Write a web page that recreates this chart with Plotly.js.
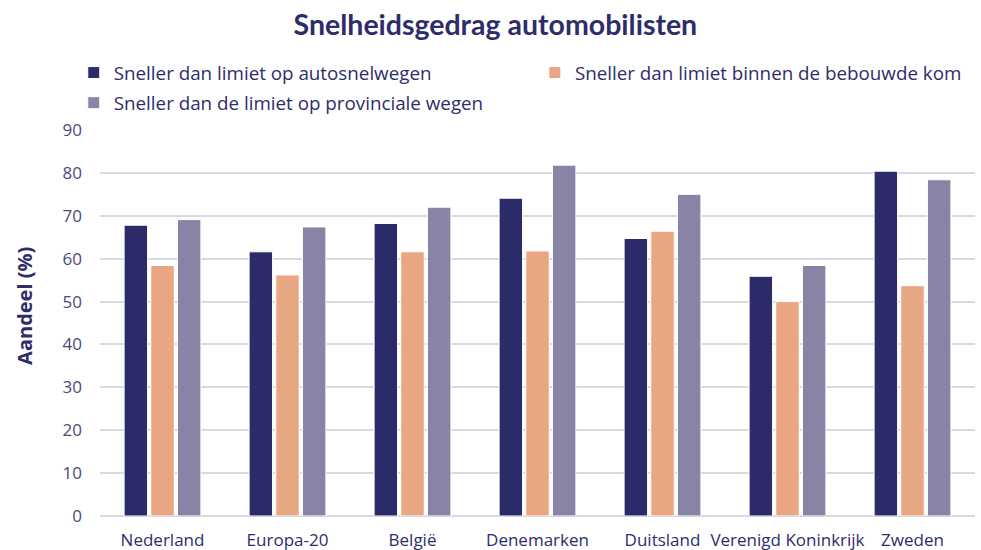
<!DOCTYPE html>
<html>
<head>
<meta charset="utf-8">
<script src="https://cdn.plot.ly/plotly-3.0.1.min.js"></script>
<style>
  html, body { margin: 0; padding: 0; background: #ffffff; }
  #chart { width: 981px; height: 550px; }
</style>
</head>
<body>
<div id="chart"></div>
<script>
const countries = ["Nederland", "Europa-20", "België", "Denemarken", "Duitsland", "Verenigd Koninkrijk", "Zweden"];

const seriesNames = [
  "Sneller dan limiet op autosnelwegen",
  "Sneller dan limiet binnen de bebouwde kom",
  "Sneller dan de limiet op provinciale wegen"
];

const motorway = [67.8, 61.6, 68.2, 74.1, 64.7, 55.9, 80.4];
const builtUp = [58.4, 56.2, 61.6, 61.8, 66.4, 50.0, 53.7];
const provincial = [69.1, 67.4, 72.0, 81.8, 75.0, 58.4, 78.4];

const yTicks = [0, 10, 20, 30, 40, 50, 60, 70, 80, 90];

const seriesColors = ["#2b2b69", "#e8a682", "#8884a5"];
const legendIds = ["legend", "legend2", "legend3"];
const textColor = "#2d2d6b";
const tickColor = "#4a4a78";

const traces = [motorway, builtUp, provincial].map((values, i) => ({
  type: "bar",
  name: seriesNames[i],
  legend: legendIds[i],
  x: countries,
  y: values,
  marker: {
    color: seriesColors[i],
    line: { color: "#ffffff", width: 1 }
  },
  hoverinfo: "x+y+name"
}));

// one legend per entry so the rows sit like the original (2 + 1)
const legendBase = {
  orientation: "h",
  xanchor: "left",
  yanchor: "middle",
  bgcolor: "rgba(0,0,0,0)",
  itemclick: false,
  font: { family: "Open Sans, sans-serif", size: 18.8, color: textColor }
};

const layout = {
  width: 981,
  height: 550,
  margin: { l: 100, r: 6, t: 130, b: 34, autoexpand: false },
  paper_bgcolor: "#ffffff",
  plot_bgcolor: "#ffffff",
  font: { family: "Open Sans, sans-serif", size: 16, color: textColor },
  title: {
    text: "<b>Snelheidsgedrag automobilisten</b>",
    x: 0.505,
    xref: "container",
    xanchor: "center",
    y: 0.955,
    yanchor: "middle",
    font: { family: "Lato, sans-serif", size: 28.5, color: textColor }
  },
  barmode: "group",
  bargap: 0.36,
  bargroupgap: 0.12,
  showlegend: true,
  legend: { ...legendBase, x: -0.03, y: 1.148 },
  legend2: { ...legendBase, x: 0.497, y: 1.148 },
  legend3: { ...legendBase, x: -0.03, y: 1.07 },
  xaxis: {
    type: "category",
    tickfont: { family: "Open Sans, sans-serif", size: 17, color: textColor },
    showline: false,
    showgrid: false,
    ticks: "",
    ticklabelstandoff: 12
  },
  yaxis: {
    range: [0, 90],
    tickvals: yTicks,
    ticktext: yTicks.map(String),
    tickfont: { family: "Open Sans, sans-serif", size: 17, color: tickColor },
    showgrid: true,
    gridcolor: "#d9d9e6",
    gridwidth: 2,
    zeroline: true,
    zerolinecolor: "#d9d9e6",
    zerolinewidth: 2,
    showline: false,
    ticks: "",
    ticklabelstandoff: 17
  },
  annotations: [
    {
      text: "<b>Aandeel (%)</b>",
      xref: "paper",
      yref: "paper",
      x: -0.087,
      y: 0.544,
      xanchor: "center",
      yanchor: "middle",
      textangle: -90,
      showarrow: false,
      font: { family: "Open Sans, sans-serif", size: 20, color: textColor }
    }
  ]
};

Plotly.newPlot("chart", traces, layout, { displayModeBar: false, responsive: false });
</script>
</body>
</html>
